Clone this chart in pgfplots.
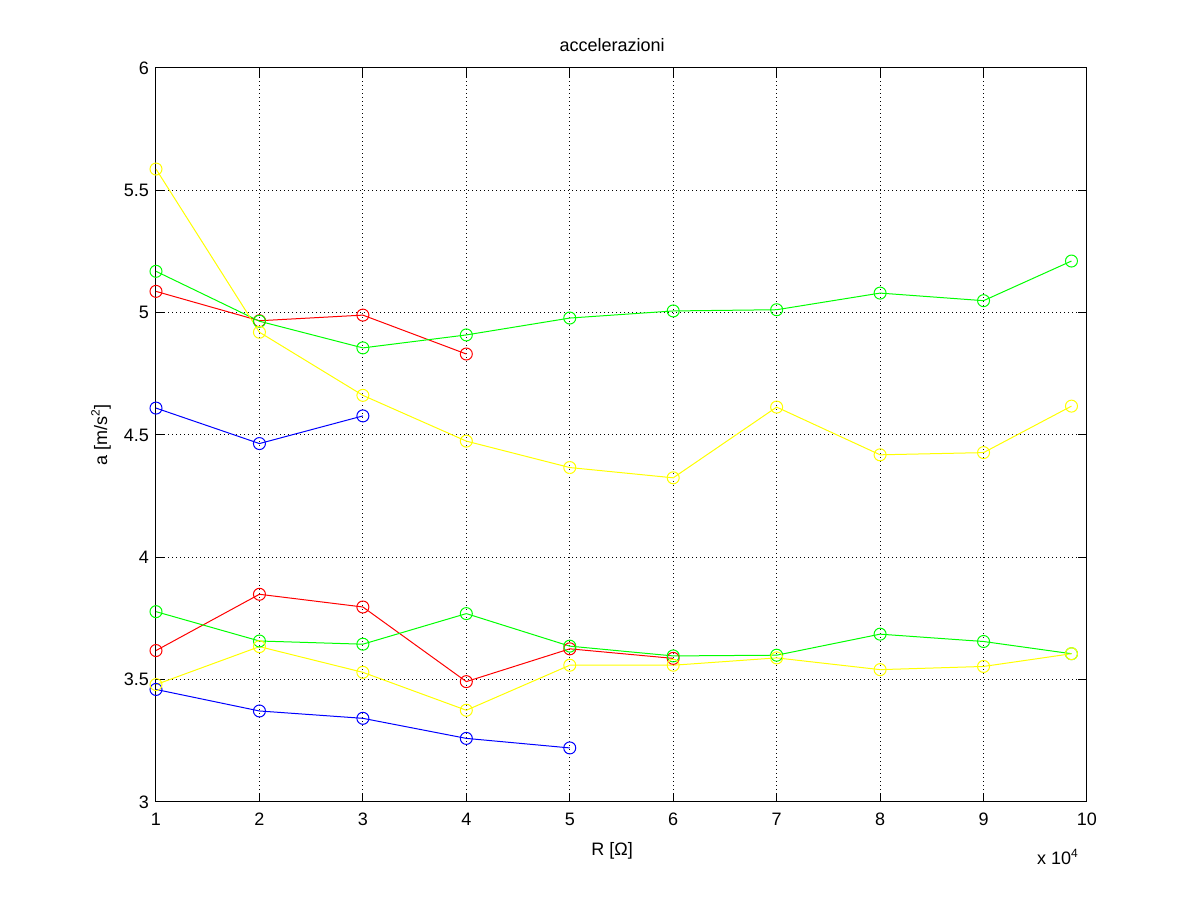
\documentclass[border=0pt]{standalone}
\usepackage{fontspec}
\setmainfont{Liberation Sans}
\usepackage{pgfplots}
\pgfplotsset{compat=1.18}
\definecolor{mred}{RGB}{255,0,0}
\definecolor{mgreen}{RGB}{0,255,0}
\definecolor{mblue}{RGB}{0,0,255}
\definecolor{myellow}{RGB}{255,255,0}
\begin{document}
\begin{tikzpicture}
\path[use as bounding box] (0,0) rectangle (600.5pt,450.5pt);
\begin{axis}[
  at={(78pt,49.5pt)}, anchor=south west,
  scale only axis, width=465.5pt, height=367pt,
  xmin=1, xmax=10, ymin=3, ymax=6,
  xtick={1,2,...,10}, ytick={3,3.5,4,4.5,5,5.5,6},
  font=\fontsize{9}{11}\selectfont,
  /pgf/number format/assume math mode=true,
  yticklabel style={/pgf/number format/fixed, /pgf/number format/precision=1},
  xticklabel style={yshift=-2pt},
  tick align=inside, major tick length=4.5pt,
  tick style={black, line width=0.5pt},
  axis line style={line width=0.5pt},
  grid=major,
  major grid style={black, line width=0.5pt, dash pattern=on 0.5pt off 1.5pt},
  every axis title shift=0pt,
  title={accelerazioni},
  title style={at={(axis description cs:0.49,1.031)}, anchor=center},
  xlabel={R [Ω]},
  xlabel style={at={(axis description cs:0.49,-0.066)}, anchor=center},
  ylabel={a [m/s\textsuperscript{2}]},
  ylabel style={at={(axis description cs:-0.059,0.5)}, anchor=center, rotate=0},
  every axis plot/.append style={line width=0.5pt, mark=o, mark size=3pt, mark options={solid}},
]
% upper group
\addplot[mblue] coordinates {(1,4.610) (2,4.465) (3,4.578)};
\addplot[mred] coordinates {(1,5.087) (2,4.967) (3,4.990) (4,4.831)};
\addplot[mgreen] coordinates {(1,5.169) (2,4.965) (3,4.856) (4,4.909) (5,4.978) (6,5.007) (7,5.012) (8,5.080) (9,5.049) (9.85,5.211)};
\addplot[myellow] coordinates {(1,5.587) (2,4.920) (3,4.662) (4,4.475) (5,4.367) (6,4.325) (7,4.614) (8,4.419) (9,4.428) (9.85,4.618)};
% lower group
\addplot[mblue] coordinates {(1,3.460) (2,3.372) (3,3.342) (4,3.260) (5,3.221)};
\addplot[mred] coordinates {(1,3.619) (2,3.849) (3,3.797) (4,3.492) (5,3.626) (6,3.587)};
\addplot[mgreen] coordinates {(1,3.778) (2,3.658) (3,3.645) (4,3.770) (5,3.637) (6,3.597) (7,3.600) (8,3.686) (9,3.656) (9.85,3.606)};
\addplot[myellow] coordinates {(1,3.480) (2,3.635) (3,3.530) (4,3.375) (5,3.559) (6,3.559) (7,3.589) (8,3.541) (9,3.554) (9.85,3.606)};
\end{axis}
\node[font=\fontsize{9}{11}\selectfont] at (529pt,22pt) {x 10\textsuperscript{4}};
\end{tikzpicture}
\end{document}
